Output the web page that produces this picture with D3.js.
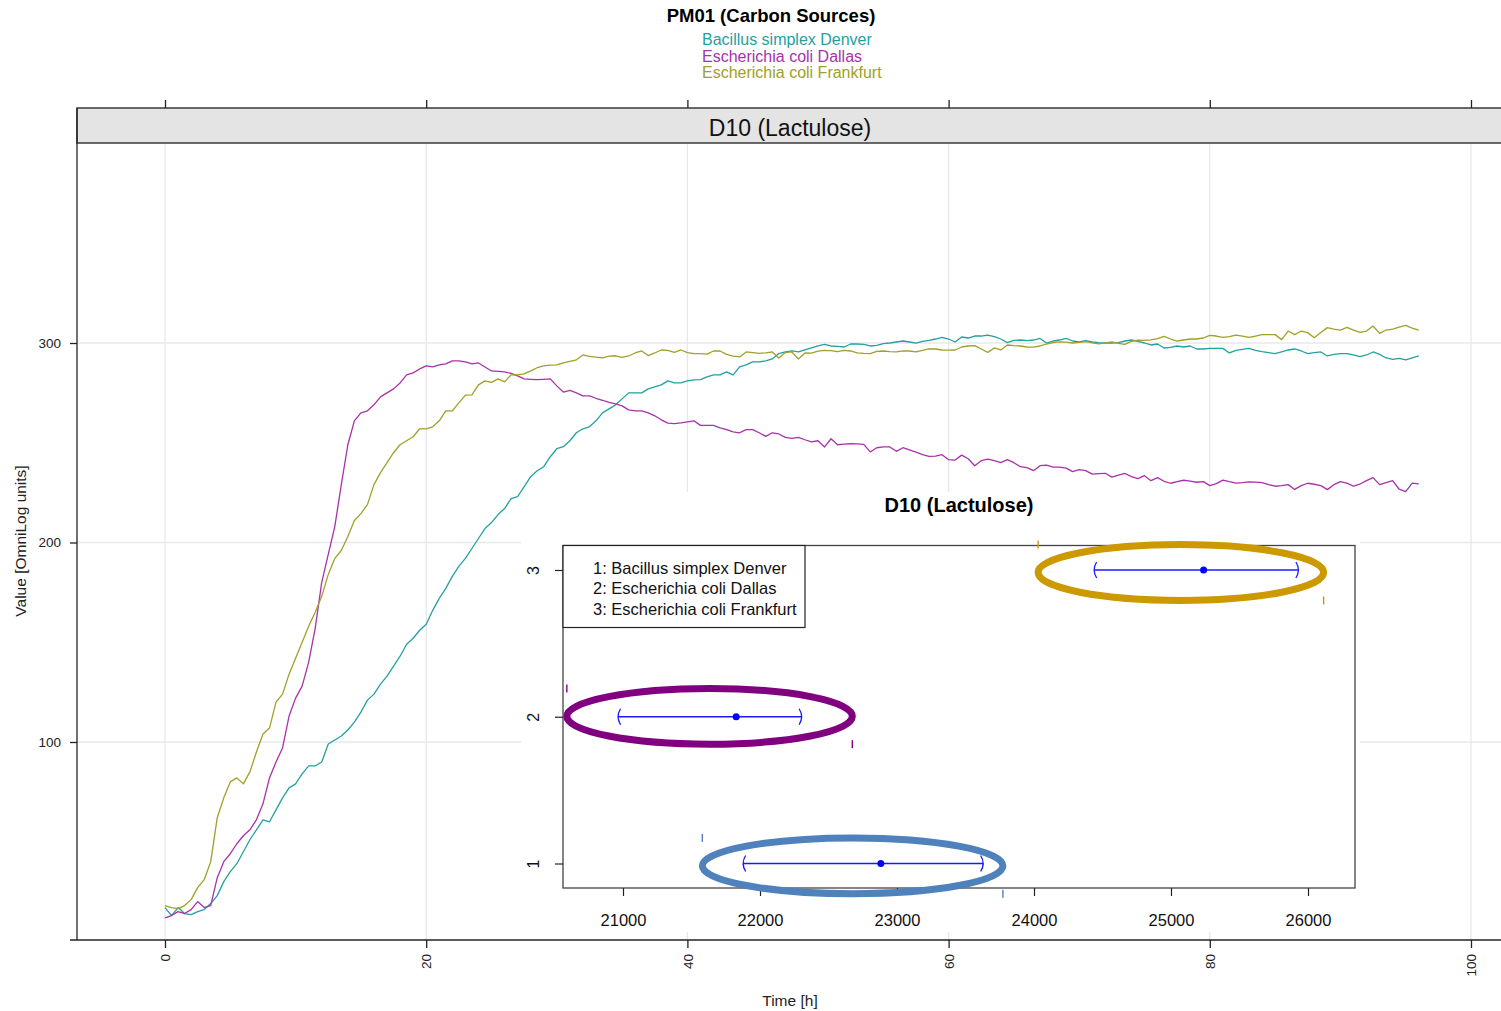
<!DOCTYPE html>
<html>
<head>
<meta charset="utf-8">
<script src="https://cdn.jsdelivr.net/npm/d3@7"></script>
<style>
  body { margin: 0; background: #fff; }
  svg { display: block; font-family: "Liberation Sans", Arial, sans-serif; }
</style>
</head>
<body>
<div id="chart"></div>
<script>
//time grid of the readings, every half hour
const hours = d3.range(0, 96.01, 0.5);

//values [OmniLog units]
const bacillusDenver = [
  17, 13, 17, 14, 13.5, 15, 16, 19, 23, 30,
  35, 39, 45, 51, 56, 61, 60, 66, 72, 77,
  79, 84, 88, 88, 90, 99, 101, 103, 106, 110,
  115, 121, 124, 129, 133, 138, 143, 149, 152, 156,
  159, 166, 172, 177, 183, 188, 192, 197, 202, 207,
  210, 214, 217, 222, 223, 228, 233, 236, 238, 243,
  247, 248, 251, 255, 257, 258, 261, 265, 267, 269,
  272, 275, 275, 275, 277, 278, 279, 281, 280, 280,
  281, 281.5, 281.6, 283, 284, 284, 285.5, 284, 288, 289,
  290.5, 290.5, 291, 292, 294.7, 295.5, 296, 295.5, 296.5, 297.5,
  298.5, 299.3, 298.5, 298.3, 298, 299.5, 299.5, 299.3, 298.5, 298.8,
  299.7, 300, 300.5, 301, 300.5, 299.9, 300.8, 301.3, 302, 302.8,
  302, 300.5, 303, 302.5, 303.5, 303.5, 304, 303.2, 302, 300.2,
  301.3, 301.5, 301.2, 301.5, 302.3, 300, 301, 301.5, 302.3, 301,
  300.5, 301.2, 300.5, 300.2, 300, 300, 300.2, 301, 301.5, 300.8,
  300, 299, 299.5, 297.5, 297.8, 298.5, 298, 298.5, 297, 297,
  297.3, 297.3, 297.3, 295, 296.3, 296.8, 297.3, 296.3, 295.7, 295.2,
  294.7, 295.6, 296.5, 297, 296, 294.7, 295.2, 295.5, 293.5, 294.3,
  294.7, 294.7, 294, 293.2, 294, 295.5, 294.3, 292.5, 291.8, 292.3,
  291.5, 292.5, 293.5
];

const coliDallas = [
  11.8, 13, 15, 14, 16, 20, 17, 18, 32, 40,
  44, 49, 53, 56, 61, 69, 82, 90, 97, 113,
  122, 128, 140, 157, 180, 194, 208, 229, 249, 261,
  265, 266, 269, 273, 275, 277, 280, 284, 285, 287,
  288.5, 288, 289, 289.5, 291, 291, 290.5, 289.5, 290, 288,
  286, 285.8, 285.5, 284.8, 283.5, 282, 281.8, 281.6, 281.8, 282,
  278.5, 275.4, 276.2, 275, 273.5, 273.5, 272.3, 271.3, 270.2, 269.5,
  268.5, 266.5, 266, 266, 265, 263.5, 261.5, 259.8, 259.6, 260,
  260.5, 261, 258.7, 258.7, 258.7, 257.5, 256.6, 255.5, 255, 256.6,
  256.6, 255, 253.2, 255, 254.4, 252.7, 252.2, 252.7, 251.5, 250.4,
  251, 247.9, 252, 249, 249.3, 249.5, 249.4, 249.2, 245.4, 247.5,
  247.9, 247.9, 245.7, 247.5, 246.4, 245.3, 244, 243.2, 243.3, 244,
  241.5, 241.3, 243.8, 242, 238.5, 241, 241.8, 241, 240, 241.5,
  240, 238, 237.5, 236, 238.5, 238.8, 237.8, 237.8, 237.3, 235.5,
  236.5, 236, 234.3, 234.5, 234.7, 232.8, 233.8, 234.6, 233, 232,
  233.5, 231, 232.5, 230.7, 229.7, 230.5, 231.2, 230.8, 230.2, 230.5,
  228.5, 229.5, 231.3, 230.5, 229.8, 230, 230.4, 230.3, 230, 229,
  228.2, 228.5, 229, 226.6, 228.5, 229.7, 229.2, 228.5, 226.5, 229,
  230.5, 229.8, 228.2, 229.3, 231, 232.5, 229, 230, 231, 226.7,
  225.5, 229.8, 229.4
];

const coliFrankfurt = [
  18, 17, 16.5, 18, 21, 27, 31, 40, 62, 72,
  80, 82, 79, 85, 95, 104, 107, 120, 124, 134,
  142, 150, 158, 165, 173, 184, 192, 196, 203, 211,
  214.5, 219, 229, 235, 240, 245, 249, 251, 253, 257,
  257, 258, 261, 266, 266, 270, 273.9, 274, 279, 281,
  280.3, 282, 280.5, 284, 284, 284.5, 286, 287.6, 288.5, 288.9,
  289, 290, 290.8, 291.6, 294, 293.3, 292.9, 292.6, 293.4, 293.6,
  292.8, 293.5, 295, 296, 293.7, 295, 296.5, 296.3, 295.3, 296.5,
  295.2, 294.7, 294.7, 294.4, 296, 296, 294.3, 293.4, 293, 295.5,
  295.2, 294.8, 295.1, 295.5, 292.5, 295.2, 295.5, 292, 295, 294.9,
  295.9, 296.3, 296.2, 295.7, 296.3, 296, 295, 294.8, 294.7, 295.8,
  296, 295.7, 295.6, 296.1, 296, 295.6, 296.3, 297, 297, 296.5,
  296.4, 296.5, 298, 298.5, 298.7, 297, 295.3, 297.5, 296.5, 299,
  298.7, 298.5, 298, 297.9, 298.5, 299.5, 300.2, 300.6, 300.4, 300,
  300.3, 300.7, 300.1, 299.6, 300.1, 300.6, 299.8, 299.3, 300.8, 301.4,
  301.3, 301.6, 302.2, 303.3, 302, 301, 301.5, 302, 302, 302.5,
  303.8, 303.5, 302.8, 303.2, 304, 303.5, 302.8, 303.5, 304.2, 304.2,
  304.2, 301.7, 306, 304.2, 306, 305.2, 302.6, 305.3, 307.7, 307,
  306.5, 307.8, 306.5, 305.3, 306, 308.5, 304.8, 306.5, 307, 308,
  308.8, 307.5, 306.5
];

const strainNames = ["Bacillus simplex Denver", "Escherichia coli Dallas", "Escherichia coli Frankfurt"];
const strainColors = ["#25a0a0", "#a832a8", "#a0a02a"];
const xTicks = [0, 20, 40, 60, 80, 100];
const yTicks = [100, 200, 300];

//inset: area estimates with confidence intervals
const insetRows = [1, 2, 3];
const insetEstimate = [22882, 21826, 25238];
const insetLower = [21877, 20964, 24439];
const insetUpper = [23629, 22304, 25930];
const insetXTicks = [21000, 22000, 23000, 24000, 25000, 26000];
//highlight rings drawn round each interval (centre, half width in data units)
const ringCentreX = [22676, 21632, 25072];
const ringCentreY = [0.984, 2.003, 2.983];
const ringHalfWidth = [1097, 1042, 1042];
const ringColors = ["#4f81bd", "#800080", "#cc9900"];

const W = 1501, H = 1011;
const svg = d3.select("#chart").append("svg").attr("width", W).attr("height", H);

//main panel scales
const x = d3.scaleLinear().domain([0, 100]).range([165, 1471]);
const y = d3.scaleLinear().domain([0, 400]).range([941.5, 143.5]);
const pLeft = 77, pTop = 143, pBottom = 940, stripTop = 108, pRight = 1530;

//gridlines
const grid = svg.append("g").attr("stroke", "#e8e8e8").attr("stroke-width", 1.3);
grid.selectAll(".vg").data(xTicks).join("line")
  .attr("x1", d => x(d)).attr("x2", d => x(d))
  .attr("y1", pTop).attr("y2", pBottom);
grid.selectAll(".hg").data(yTicks).join("line")
  .attr("x1", pLeft).attr("x2", pRight)
  .attr("y1", d => y(d)).attr("y2", d => y(d));

//curves
svg.append("clipPath").attr("id", "panelClip")
  .append("rect").attr("x", pLeft).attr("y", pTop)
  .attr("width", pRight - pLeft).attr("height", pBottom - pTop);

const line = d3.line().x((d, i) => x(hours[i])).y(d => y(d));
const series = [bacillusDenver, coliDallas, coliFrankfurt];
svg.append("g").attr("clip-path", "url(#panelClip)")
  .selectAll("path").data(series).join("path")
  .attr("d", d => line(d))
  .attr("fill", "none")
  .attr("stroke", (d, i) => strainColors[i])
  .attr("stroke-width", 1.3)
  .attr("stroke-linejoin", "round");

//strip
svg.append("rect")
  .attr("x", pLeft).attr("y", stripTop)
  .attr("width", pRight - pLeft).attr("height", pTop - stripTop)
  .attr("fill", "#e4e4e4").attr("stroke", "#3a3a3a").attr("stroke-width", 1.5);
svg.append("text")
  .attr("x", 790).attr("y", 136)
  .attr("text-anchor", "middle").attr("font-size", 23).attr("fill", "#111")
  .text("D10 (Lactulose)");

//panel frame
svg.append("line").attr("x1", pLeft).attr("x2", pLeft)
  .attr("y1", stripTop).attr("y2", pBottom).attr("stroke", "#222").attr("stroke-width", 1.3);
svg.append("line").attr("x1", 70).attr("x2", pRight)
  .attr("y1", pBottom).attr("y2", pBottom).attr("stroke", "#222").attr("stroke-width", 1.3);

//axes
const yAxis = svg.append("g").attr("transform", `translate(${pLeft},0)`)
  .call(d3.axisLeft(y).tickValues(yTicks).tickSize(7).tickPadding(9));
const xAxis = svg.append("g").attr("transform", `translate(0,${pBottom})`)
  .call(d3.axisBottom(x).tickValues(xTicks).tickSize(8));
const topAxis = svg.append("g").attr("transform", `translate(0,${stripTop})`)
  .call(d3.axisTop(x).tickValues(xTicks).tickSize(8).tickFormat(""));

[yAxis, xAxis, topAxis].forEach(g => {
  g.select(".domain").remove();
  g.attr("font-family", null).attr("font-size", 13.5);
  g.selectAll(".tick line").attr("stroke", "#222").attr("stroke-width", 1.3);
  g.selectAll(".tick text").attr("fill", "#222");
});
xAxis.selectAll(".tick text")
  .attr("transform", "rotate(-90)")
  .attr("text-anchor", "end")
  .attr("x", -14).attr("y", 0).attr("dy", "0.35em");

//axis titles
svg.append("text")
  .attr("transform", "translate(26,541) rotate(-90)")
  .attr("text-anchor", "middle").attr("font-size", 15.5).attr("fill", "#222")
  .text("Value [OmniLog units]");
svg.append("text")
  .attr("x", 790).attr("y", 1006)
  .attr("text-anchor", "middle").attr("font-size", 15.5).attr("fill", "#222")
  .text("Time [h]");

//title and key
svg.append("text")
  .attr("x", 771).attr("y", 22)
  .attr("text-anchor", "middle").attr("font-size", 18.5).attr("font-weight", "bold")
  .text("PM01 (Carbon Sources)");
svg.append("g").selectAll("text").data(strainNames).join("text")
  .attr("x", 702).attr("y", (d, i) => 45 + i * 16.7)
  .attr("font-size", 16)
  .attr("fill", (d, i) => strainColors[i])
  .text(d => d);

//inset plot
const inset = svg.append("g");
inset.append("rect").attr("x", 521).attr("y", 492)
  .attr("width", 839).attr("height", 440).attr("fill", "#fff");

const ix = d3.scaleLinear().domain([21000, 26000]).range([623, 1308]);
const iy = d3.scaleLinear().domain([1, 3]).range([863.5, 570]);
const box = { left: 563, right: 1355, top: 545.5, bottom: 888 };

inset.append("text")
  .attr("x", 959).attr("y", 512)
  .attr("text-anchor", "middle").attr("font-size", 20).attr("font-weight", "bold")
  .text("D10 (Lactulose)");

inset.append("rect")
  .attr("x", box.left).attr("y", box.top)
  .attr("width", box.right - box.left).attr("height", box.bottom - box.top)
  .attr("fill", "none").attr("stroke", "#444").attr("stroke-width", 1.3);

//inset axes
const ixAxis = inset.append("g").attr("transform", `translate(0,${box.bottom})`)
  .call(d3.axisBottom(ix).tickValues(insetXTicks).tickSize(8).tickPadding(18).tickFormat(d3.format("d")));
const iyAxis = inset.append("g").attr("transform", `translate(${box.left},0)`)
  .call(d3.axisLeft(iy).tickValues(insetRows).tickSize(8).tickFormat(d3.format("d")));
[ixAxis, iyAxis].forEach(g => {
  g.select(".domain").remove();
  g.attr("font-family", null).attr("font-size", 16.5);
  g.selectAll(".tick line").attr("stroke", "#222").attr("stroke-width", 1.2);
  g.selectAll(".tick text").attr("fill", "#111");
});
iyAxis.selectAll(".tick text")
  .attr("transform", "rotate(-90)")
  .attr("text-anchor", "middle")
  .attr("x", 0).attr("y", -30).attr("dy", "0.35em")
  .attr("font-size", 16);

//rings
const ringRy = 0.19;
inset.selectAll(".ring").data(insetRows).join("ellipse")
  .attr("cx", (d, i) => ix(ringCentreX[i]))
  .attr("cy", (d, i) => iy(ringCentreY[i]))
  .attr("rx", (d, i) => ix(ringCentreX[i] + ringHalfWidth[i]) - ix(ringCentreX[i]))
  .attr("ry", (d, i) => iy(ringCentreY[i]) - iy(ringCentreY[i] + ringRy))
  .attr("fill", "none")
  .attr("stroke", (d, i) => ringColors[i])
  .attr("stroke-width", 7);

//little corner marks left by each ring
insetRows.forEach((r, i) => {
  const x0 = ix(ringCentreX[i] - ringHalfWidth[i]), x1 = ix(ringCentreX[i] + ringHalfWidth[i]);
  const y0 = iy(ringCentreY[i] + ringRy), y1 = iy(ringCentreY[i] - ringRy);
  [[x0, y0], [x1, y1]].forEach(([mx, my]) => {
    inset.append("line")
      .attr("x1", mx).attr("x2", mx).attr("y1", my - 4).attr("y2", my + 4)
      .attr("stroke", ringColors[i]).attr("stroke-width", 1.4);
  });
});

//confidence intervals
const ci = inset.append("g").attr("stroke", "#1a1aff").attr("fill", "none").attr("stroke-width", 1.3);
insetRows.forEach((r, i) => {
  const yy = iy(r), lo = ix(insetLower[i]), hi = ix(insetUpper[i]);
  ci.append("line").attr("x1", lo).attr("x2", hi).attr("y1", yy).attr("y2", yy);
  ci.append("path").attr("d", `M${lo + 2.5},${yy - 8} Q${lo - 2.5},${yy} ${lo + 2.5},${yy + 8}`);
  ci.append("path").attr("d", `M${hi - 2.5},${yy - 8} Q${hi + 2.5},${yy} ${hi - 2.5},${yy + 8}`);
});
inset.selectAll(".pt").data(insetRows).join("circle")
  .attr("cx", (d, i) => ix(insetEstimate[i]))
  .attr("cy", d => iy(d))
  .attr("r", 3.5).attr("fill", "#0000ff");

//inset legend
inset.append("rect")
  .attr("x", box.left).attr("y", box.top)
  .attr("width", 242).attr("height", 82)
  .attr("fill", "#fff").attr("stroke", "#222").attr("stroke-width", 1.2);
inset.append("g").selectAll("text").data(strainNames).join("text")
  .attr("x", 593).attr("y", (d, i) => 574 + i * 20.3)
  .attr("font-size", 16.5).attr("fill", "#111")
  .text((d, i) => `${insetRows[i]}: ${d}`);
</script>
</body>
</html>
